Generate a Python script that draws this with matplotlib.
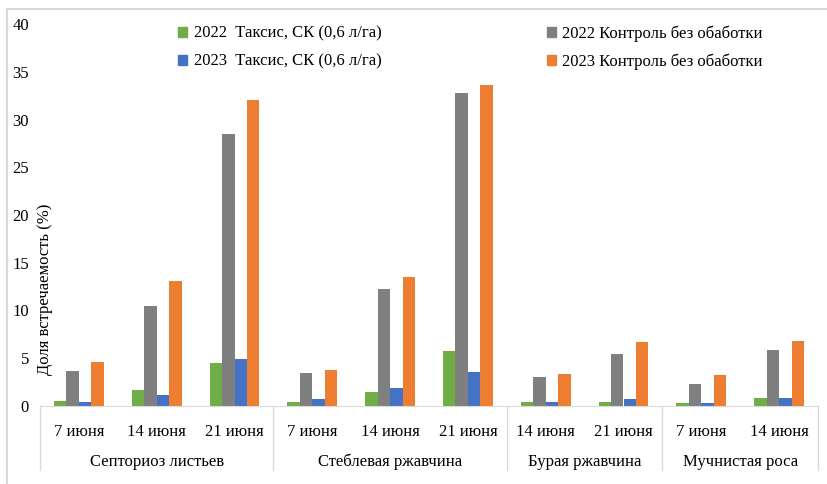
import numpy as np
import matplotlib
matplotlib.use('Agg')
import matplotlib.pyplot as plt
from matplotlib.lines import Line2D
from matplotlib.patches import Patch

plt.rcParams['font.family'] = ['Liberation Serif', 'DejaVu Serif']
plt.rcParams['font.size'] = 12

# Disease / date categories
dates = ["7 июня", "14 июня", "21 июня",
         "7 июня", "14 июня", "21 июня",
         "14 июня", "21 июня",
         "7 июня", "14 июня"]
diseases = ["Септориоз листьев", "Стеблевая ржавчина", "Бурая ржавчина", "Мучнистая роса"]
group_sizes = [3, 3, 2, 2]

# Share of affected plants, %
taxis_2022 = [0.5, 1.7, 4.5, 0.4, 1.5, 5.8, 0.4, 0.4, 0.3, 0.8]
control_2022 = [3.7, 10.5, 28.5, 3.5, 12.2, 32.8, 3.0, 5.4, 2.3, 5.9]
taxis_2023 = [0.4, 1.2, 4.9, 0.7, 1.9, 3.6, 0.4, 0.7, 0.3, 0.8]
control_2023 = [4.6, 13.1, 32.0, 3.8, 13.5, 33.6, 3.4, 6.7, 3.2, 6.8]

series = [
    ("2022  Таксис, СК (0,6 л/га)", taxis_2022, "#70AD47"),
    ("2022 Контроль без обаботки", control_2022, "#7F7F7F"),
    ("2023  Таксис, СК (0,6 л/га)", taxis_2023, "#4472C4"),
    ("2023 Контроль без обаботки", control_2023, "#ED7D31"),
]

fig = plt.figure(figsize=(8.27, 4.84), dpi=100)
ax = fig.add_axes([40 / 827, 1 - 406 / 484, 778 / 827, 382 / 484])

x = np.arange(len(dates))
w = 0.16
for i, (label, vals, color) in enumerate(series):
    ax.bar(x + (i - 1.5) * w, vals, width=w, color=color, label=label, zorder=2)

ax.set_xlim(-0.5, len(dates) - 0.5)
ax.set_ylim(0, 40)
ax.set_yticks(np.arange(0, 41, 5))
ax.set_xticks([])
ax.tick_params(axis='y', length=0, pad=8)
for s in ['top', 'right', 'left']:
    ax.spines[s].set_visible(False)
ax.spines['bottom'].set_color('#D9D9D9')

# two-level category axis
axis_gray = '#D9D9D9'
bounds = np.cumsum([0] + group_sizes) - 0.5
for b in bounds:
    ax.plot([b, b], [0, -64 / 382], color=axis_gray, lw=1,
            transform=ax.get_xaxis_transform(), clip_on=False)
for xi, d in zip(x, dates):
    ax.text(xi, -26 / 382, d, ha='center', va='center',
            transform=ax.get_xaxis_transform())
for k, name in enumerate(diseases):
    mid = (bounds[k] + bounds[k + 1]) / 2
    ax.text(mid, -56 / 382, name, ha='center', va='center',
            transform=ax.get_xaxis_transform())

fig.text(45 / 827, 1 - 289 / 484, "Доля встречаемость (%)", rotation=90,
         ha='center', va='center')

# legend: taxis entries on the left, control on the right
handles = [Patch(color=c) for _, _, c in series]
labels = [l for l, _, _ in series]
order = [0, 2, 1, 3]
fig.legend([handles[i] for i in order], [labels[i] for i in order],
           loc='upper left', bbox_to_anchor=(178 / 827, 1 - 25 / 484),
           ncol=2, frameon=False, handlelength=0.55, handleheight=0.55,
           handletextpad=0.4, columnspacing=9.9, labelspacing=0.72,
           borderaxespad=0, borderpad=0)

# outer frame edges
fig.add_artist(Line2D([7 / 827, 1], [1 - 9 / 484] * 2, color=axis_gray, lw=1.5))
fig.add_artist(Line2D([7 / 827] * 2, [0, 1 - 9 / 484], color=axis_gray, lw=1.5))

fig.savefig("out.png", dpi=100)
